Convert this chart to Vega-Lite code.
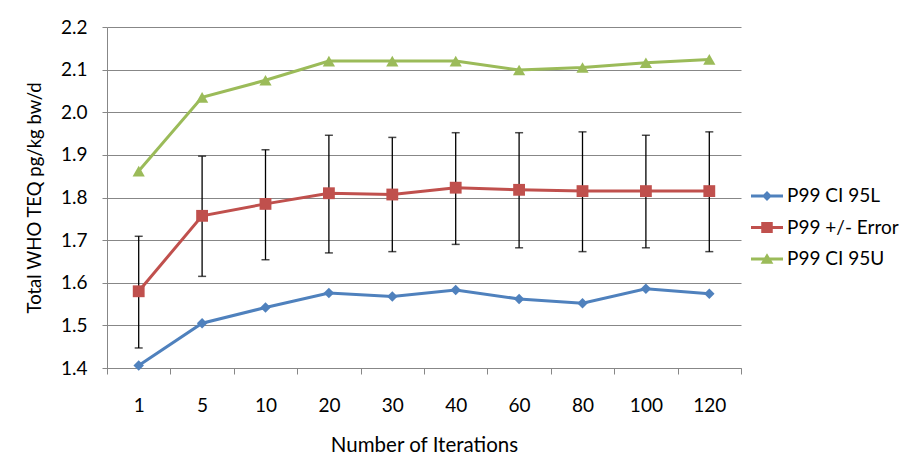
{
  "$schema": "https://vega.github.io/schema/vega-lite/v6.json",
  "autosize": {"type": "none"},
  "width": 634,
  "height": 341,
  "padding": {"left": 107, "top": 27, "right": 168, "bottom": 93},
  "background": "white",
  "config": {
    "font": "Lato",
    "view": {"stroke": null},
    "axis": {
      "labelFont": "Lato",
      "labelFontSize": 19,
      "labelColor": "#000000",
      "titleFont": "Lato",
      "titleFontSize": 18,
      "titleFontWeight": "normal",
      "titleColor": "#000000",
      "domainColor": "#878787",
      "tickColor": "#878787",
      "gridColor": "#878787",
      "domainWidth": 1,
      "tickWidth": 1,
      "gridWidth": 1
    }
  },
  "data": {
    "values": [
      {"iter": "1", "series": "P99 CI 95L", "value": 1.406},
      {"iter": "5", "series": "P99 CI 95L", "value": 1.505},
      {"iter": "10", "series": "P99 CI 95L", "value": 1.542},
      {"iter": "20", "series": "P99 CI 95L", "value": 1.576},
      {"iter": "30", "series": "P99 CI 95L", "value": 1.568},
      {"iter": "40", "series": "P99 CI 95L", "value": 1.583},
      {"iter": "60", "series": "P99 CI 95L", "value": 1.562},
      {"iter": "80", "series": "P99 CI 95L", "value": 1.552},
      {"iter": "100", "series": "P99 CI 95L", "value": 1.586},
      {"iter": "120", "series": "P99 CI 95L", "value": 1.574},
      {"iter": "1", "series": "P99 +/- Error", "value": 1.58, "lo": 1.447, "hi": 1.709},
      {"iter": "5", "series": "P99 +/- Error", "value": 1.757, "lo": 1.615, "hi": 1.897},
      {"iter": "10", "series": "P99 +/- Error", "value": 1.785, "lo": 1.654, "hi": 1.912},
      {"iter": "20", "series": "P99 +/- Error", "value": 1.81, "lo": 1.67, "hi": 1.946},
      {"iter": "30", "series": "P99 +/- Error", "value": 1.807, "lo": 1.673, "hi": 1.941},
      {"iter": "40", "series": "P99 +/- Error", "value": 1.823, "lo": 1.69, "hi": 1.952},
      {"iter": "60", "series": "P99 +/- Error", "value": 1.818, "lo": 1.682, "hi": 1.952},
      {"iter": "80", "series": "P99 +/- Error", "value": 1.815, "lo": 1.673, "hi": 1.954},
      {"iter": "100", "series": "P99 +/- Error", "value": 1.815, "lo": 1.682, "hi": 1.946},
      {"iter": "120", "series": "P99 +/- Error", "value": 1.815, "lo": 1.673, "hi": 1.954},
      {"iter": "1", "series": "P99 CI 95U", "value": 1.862},
      {"iter": "5", "series": "P99 CI 95U", "value": 2.035},
      {"iter": "10", "series": "P99 CI 95U", "value": 2.075},
      {"iter": "20", "series": "P99 CI 95U", "value": 2.12},
      {"iter": "30", "series": "P99 CI 95U", "value": 2.12},
      {"iter": "40", "series": "P99 CI 95U", "value": 2.12},
      {"iter": "60", "series": "P99 CI 95U", "value": 2.099},
      {"iter": "80", "series": "P99 CI 95U", "value": 2.105},
      {"iter": "100", "series": "P99 CI 95U", "value": 2.116},
      {"iter": "120", "series": "P99 CI 95U", "value": 2.124}
    ]
  },
  "encoding": {
    "x": {
      "field": "iter",
      "type": "ordinal",
      "sort": ["1", "5", "10", "20", "30", "40", "60", "80", "100", "120"],
      "scale": {"type": "band", "paddingInner": 0, "paddingOuter": 0},
      "axis": {
        "title": "Number of Iterations",
        "titleFontSize": 20.5,
        "labelAngle": 0,
        "tickBand": "extent",
        "tickSize": 6,
        "labelPadding": 22,
        "titlePadding": 20,
        "grid": false
      }
    }
  },
  "layer": [
    {
      "transform": [{"filter": "datum.series === 'P99 +/- Error'"}],
      "mark": {"type": "rule", "color": "#000000", "strokeWidth": 1.3},
      "encoding": {
        "y": {"field": "lo", "type": "quantitative"},
        "y2": {"field": "hi"}
      }
    },
    {
      "transform": [{"filter": "datum.series === 'P99 +/- Error'"}],
      "mark": {"type": "tick", "color": "#000000", "thickness": 1.5, "size": 8, "orient": "horizontal"},
      "encoding": {"y": {"field": "lo", "type": "quantitative"}}
    },
    {
      "transform": [{"filter": "datum.series === 'P99 +/- Error'"}],
      "mark": {"type": "tick", "color": "#000000", "thickness": 1.5, "size": 8, "orient": "horizontal"},
      "encoding": {"y": {"field": "hi", "type": "quantitative"}}
    },
    {
      "mark": {"type": "line", "strokeWidth": 3},
      "encoding": {
        "y": {
          "field": "value",
          "type": "quantitative",
          "scale": {"domain": [1.4, 2.2], "nice": false, "zero": false},
          "axis": {
            "title": "Total WHO TEQ pg/kg bw/d",
            "titleFontSize": 18.5,
            "values": [1.4, 1.5, 1.6, 1.7, 1.8, 1.9, 2.0, 2.1, 2.2],
            "format": ".1f",
            "tickSize": 5,
            "labelPadding": 15,
            "titlePadding": 16,
            "grid": true
          }
        },
        "color": {
          "field": "series",
          "type": "nominal",
          "scale": {
            "domain": ["P99 CI 95L", "P99 +/- Error", "P99 CI 95U"],
            "range": ["#4F81BD", "#C0504D", "#9BBB59"]
          },
          "legend": {
            "title": null,
            "orient": "none",
            "legendX": 644,
            "legendY": 153,
            "symbolSize": 1024,
            "rowPadding": 5.5,
            "labelFont": "Lato",
            "labelFontSize": 19,
            "labelColor": "#000000",
            "labelOffset": 4,
            "encode": {
              "symbols": {
                "update": {
                  "shape": {"signal": "datum.value === 'P99 CI 95L' ? 'M-1,-0.09H1V0.09H-1Z M0,-0.31L0.31,0L0,0.31L-0.31,0Z' : datum.value === 'P99 +/- Error' ? 'M-1,-0.09H1V0.09H-1Z M-0.36,-0.34H0.36V0.34H-0.36Z' : 'M-1,-0.09H1V0.09H-1Z M0,-0.36L0.4,0.3H-0.4Z'"},
                  "fill": {"scale": "color", "field": "value"},
                  "stroke": {"value": "transparent"},
                  "strokeWidth": {"value": 0},
                  "opacity": {"value": 1},
                  "size": {"value": 1024}
                }
              }
            }
          }
        }
      }
    },
    {
      "transform": [{"filter": "datum.series === 'P99 CI 95L'"}],
      "mark": {"type": "point", "filled": true, "opacity": 1, "size": 110, "shape": "diamond"},
      "encoding": {
        "y": {"field": "value", "type": "quantitative"},
        "color": {"field": "series", "type": "nominal"}
      }
    },
    {
      "transform": [{"filter": "datum.series === 'P99 +/- Error'"}],
      "mark": {"type": "point", "filled": true, "opacity": 1, "size": 140, "shape": "square"},
      "encoding": {
        "y": {"field": "value", "type": "quantitative"},
        "color": {"field": "series", "type": "nominal"}
      }
    },
    {
      "transform": [{"filter": "datum.series === 'P99 CI 95U'"}],
      "mark": {"type": "point", "filled": true, "opacity": 1, "size": 150, "shape": "triangle-up"},
      "encoding": {
        "y": {"field": "value", "type": "quantitative"},
        "color": {"field": "series", "type": "nominal"}
      }
    }
  ]
}
